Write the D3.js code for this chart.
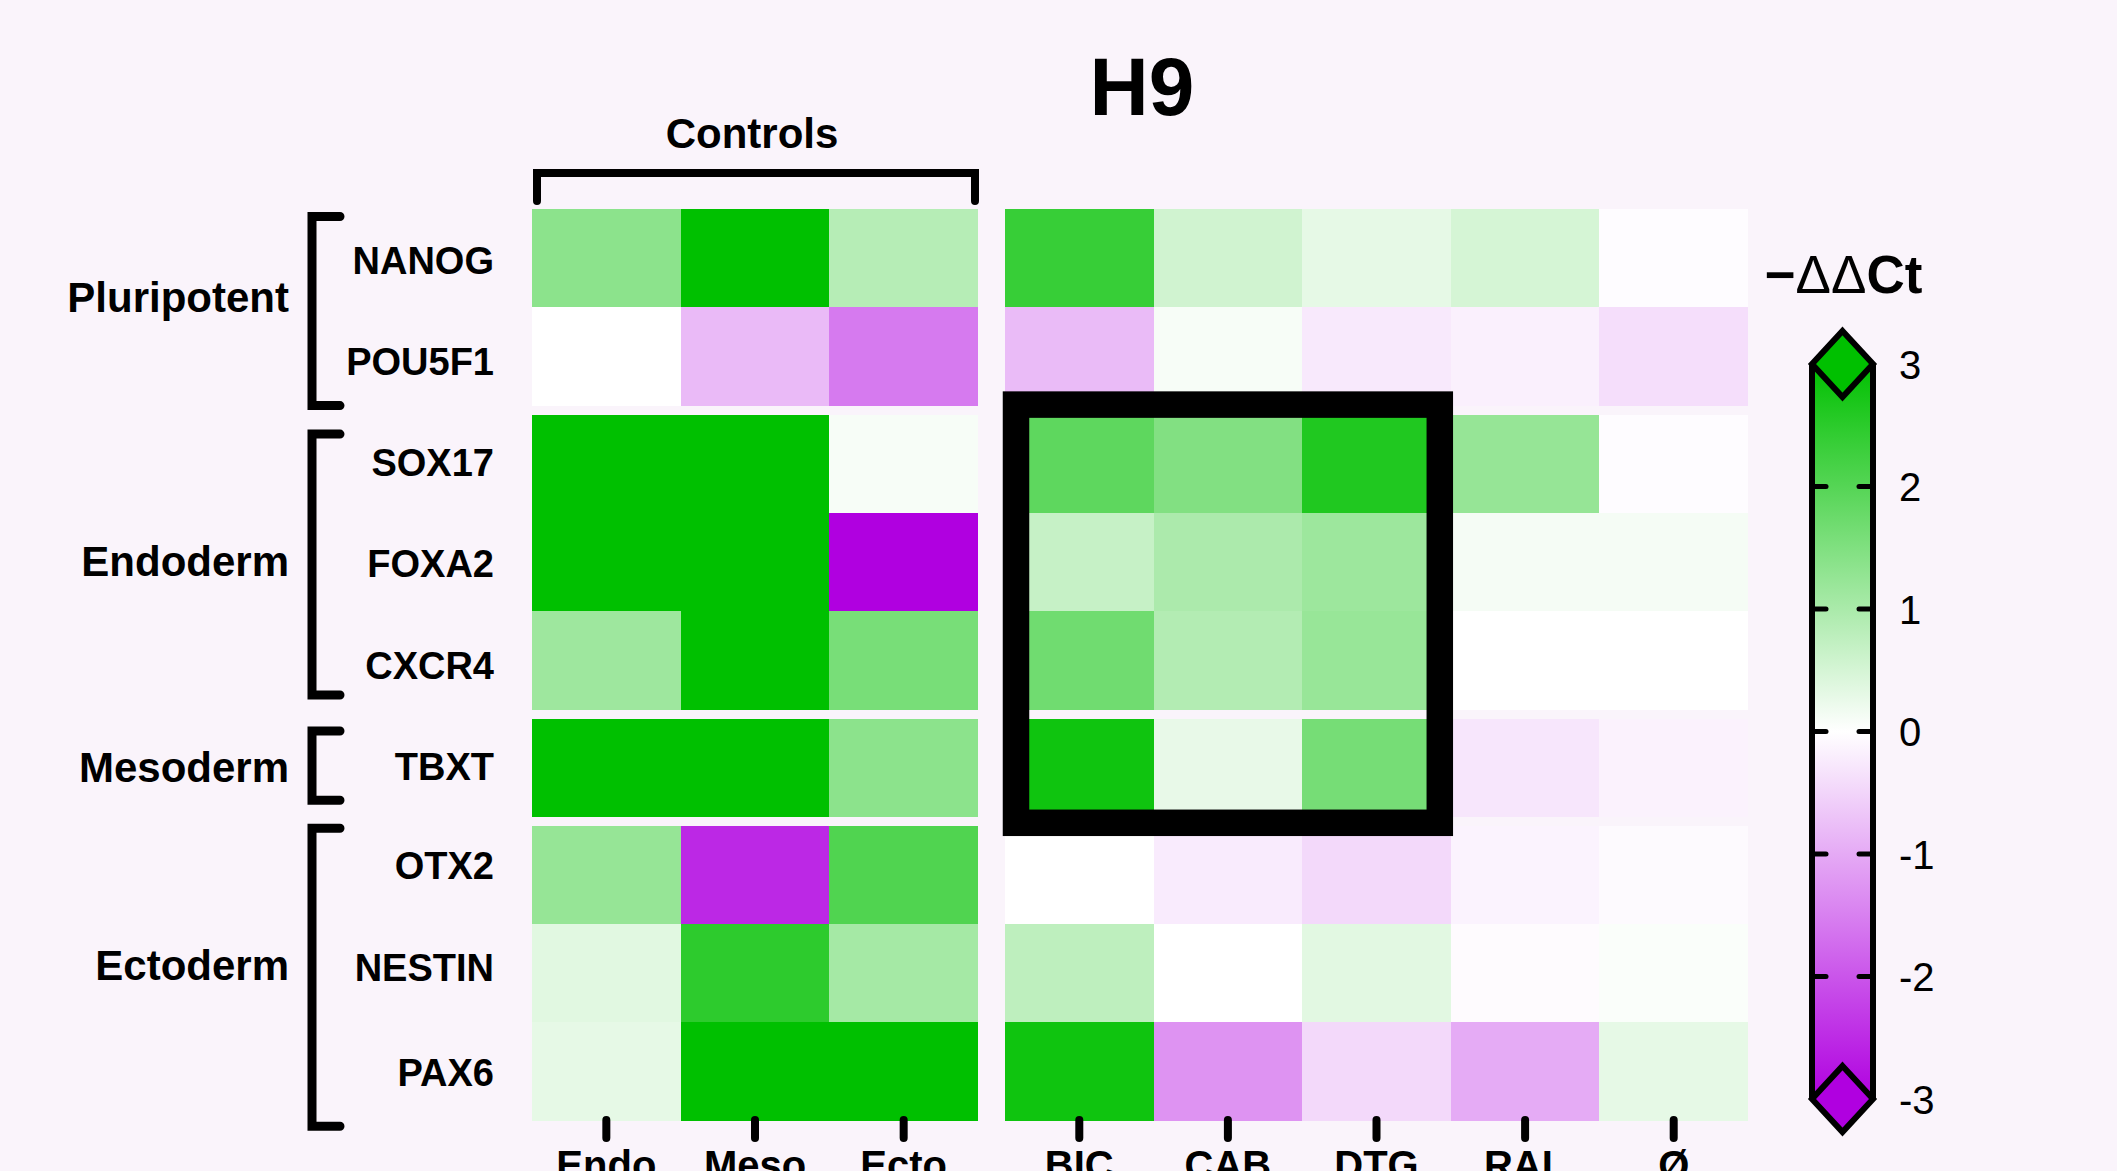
<!DOCTYPE html>
<html>
<head>
<meta charset="utf-8">
<script src="https://cdn.jsdelivr.net/npm/d3@7"></script>
<style>
  html, body { margin: 0; padding: 0; background: #faf4fb; }
  svg { display: block; }
  text { font-family: "Liberation Sans", Arial, Helvetica, sans-serif; fill: #000; }
</style>
</head>
<body>
<svg id="main-canvas" width="2117" height="1171"></svg>
<script>
// 数据
var genes = ["NANOG", "POU5F1", "SOX17", "FOXA2", "CXCR4", "TBXT", "OTX2", "NESTIN", "PAX6"]
var groupNames = ["Pluripotent", "Endoderm", "Mesoderm", "Ectoderm"]
var groupSizes = [2, 3, 1, 3]
var controls = ["Endo", "Meso", "Ecto"]
var drugs = ["BIC", "CAB", "DTG", "RAL", "Ø"]

// -ΔΔCt, 每行一个基因
var controlValues = [
  [1.35, 3.6, 0.86],
  [0.0, -0.81, -1.56],
  [3.8, 3.5, 0.1],
  [3.7, 3.9, -3.3],
  [1.14, 3.4, 1.59],
  [3.6, 3.7, 1.35],
  [1.24, -2.53, 2.06],
  [0.35, 2.47, 1.06],
  [0.29, 3.5, 3.3]
]
var drugValues = [
  [2.35, 0.55, 0.29, 0.49, -0.04],
  [-0.8, 0.1, -0.26, -0.18, -0.39],
  [1.9, 1.47, 2.62, 1.24, -0.04],
  [0.67, 0.98, 1.15, 0.12, 0.12],
  [1.68, 0.9, 1.21, 0.0, 0.0],
  [2.82, 0.27, 1.61, -0.29, -0.15],
  [0.0, -0.24, -0.45, -0.14, -0.06],
  [0.76, 0.0, 0.34, -0.05, 0.06],
  [2.82, -1.27, -0.45, -0.99, 0.29]
]
var legendTicks = [3, 2, 1, 0, -1, -2, -3]
var boxGenes = ["SOX17", "TBXT"]
var boxDrugs = ["BIC", "DTG"]

// 版面微调（手工排版的偏移）
var geneLabelNudge = [2, 5, -1, 1, 5, -1, -9, -6, 1]
var groupLabelNudge = [-10, -1.5, -1, -8]
var bracketInsetTop = [7.5, 19.5, 12.5, 2.5]
var bracketInsetBottom = [0, 14.5, 16.5, -5.5]

var svg = d3.select("#main-canvas")

svg.append("rect")
   .attr("width", 2117)
   .attr("height", 1171)
   .attr("fill", "#faf4fb")

var color = d3.scaleLinear()
              .domain([-3, 0, 3])
              .range(["#b000e0", "#ffffff", "#00c000"])
              .clamp(true)

// 行位置：组之间有空隙
var rowH = 98.3, gap = 9
var groupOf = []
groupSizes.forEach(function (n, g) { for (var k = 0; k < n; k++) groupOf.push(g) })
var yRow = d3.scaleLinear().domain([0, genes.length]).range([209, 209 + genes.length * rowH])
function rowTop (i) { return yRow(i) + gap * groupOf[i] }

var xCtrl = d3.scaleBand().domain(controls).range([532, 978])
var xDrug = d3.scaleBand().domain(drugs).range([1005, 1748])

// 热图格子
function drawBlock (cols, x, values) {
  var cells = []
  genes.forEach(function (gname, i) {
    cols.forEach(function (c, j) { cells.push({ i: i, c: c, v: values[i][j] }) })
  })
  svg.append("g")
     .selectAll("rect")
     .data(cells)
     .join("rect")
     .attr("x", function (d) { return x(d.c) })
     .attr("y", function (d) { return rowTop(d.i) })
     .attr("width", x.bandwidth())
     .attr("height", rowH)
     .attr("shape-rendering", "crispEdges")
     .attr("fill", function (d) { return color(d.v) })

  // 下方刻度与标签
  var ax = svg.append("g")
  ax.selectAll("line")
    .data(cols)
    .join("line")
    .attr("x1", function (d) { return x(d) + x.bandwidth() / 2 })
    .attr("x2", function (d) { return x(d) + x.bandwidth() / 2 })
    .attr("y1", 1120)
    .attr("y2", 1138)
    .attr("stroke", "#000")
    .attr("stroke-width", 8)
    .attr("stroke-linecap", "round")
  ax.selectAll("text")
    .data(cols)
    .join("text")
    .attr("x", function (d) { return x(d) + x.bandwidth() / 2 })
    .attr("y", 1179)
    .attr("text-anchor", "middle")
    .attr("font-size", 40)
    .attr("font-weight", "bold")
    .text(function (d) { return d })
}
drawBlock(controls, xCtrl, controlValues)
drawBlock(drugs, xDrug, drugValues)

// 基因名
svg.append("g")
   .selectAll("text")
   .data(genes)
   .join("text")
   .attr("x", 494)
   .attr("y", function (d, i) { return rowTop(i) + rowH / 2 + 13.5 + geneLabelNudge[i] })
   .attr("text-anchor", "end")
   .attr("font-size", 38)
   .attr("font-weight", "bold")
   .text(function (d) { return d })

// 分组括号和名称
var start = 0
groupNames.forEach(function (name, g) {
  var i0 = start, i1 = start + groupSizes[g] - 1
  start += groupSizes[g]
  var y0 = rowTop(i0), y1 = rowTop(i1) + rowH
  svg.append("path")
     .attr("d", "M340," + (y0 + bracketInsetTop[g]) + "H312V" + (y1 - bracketInsetBottom[g]) + "H340")
     .attr("fill", "none")
     .attr("stroke", "#000")
     .attr("stroke-width", 9)
     .attr("stroke-linecap", "round")
  svg.append("text")
     .attr("x", 289)
     .attr("y", (y0 + y1) / 2 + 15 + groupLabelNudge[g])
     .attr("text-anchor", "end")
     .attr("font-size", 42)
     .attr("font-weight", "bold")
     .text(name)
})

// Controls 括号
var cx0 = xCtrl.range()[0] + 5, cx1 = xCtrl.range()[1] - 3
svg.append("path")
   .attr("d", "M" + cx0 + ",201V173H" + cx1 + "V201")
   .attr("fill", "none")
   .attr("stroke", "#000")
   .attr("stroke-width", 8)
   .attr("stroke-linecap", "round")
svg.append("text")
   .attr("x", (xCtrl.range()[0] + xCtrl.range()[1]) / 2 - 3)
   .attr("y", 148)
   .attr("text-anchor", "middle")
   .attr("font-size", 42)
   .attr("font-weight", "bold")
   .text("Controls")

// 标题
svg.append("text")
   .attr("x", (xCtrl.range()[0] + xDrug.range()[1]) / 2 + 2)
   .attr("y", 115)
   .attr("text-anchor", "middle")
   .attr("font-size", 82)
   .attr("font-weight", "bold")
   .text("H9")

// 黑框
var gi0 = genes.indexOf(boxGenes[0]), gi1 = genes.indexOf(boxGenes[1])
var bx0 = xDrug(boxDrugs[0]) + 11
var bx1 = xDrug(boxDrugs[1]) + xDrug.bandwidth() - 11
var by0 = rowTop(gi0) - 10
var by1 = rowTop(gi1) + rowH + 6
svg.append("rect")
   .attr("x", bx0)
   .attr("y", by0)
   .attr("width", bx1 - bx0)
   .attr("height", by1 - by0)
   .attr("fill", "none")
   .attr("stroke", "#000")
   .attr("stroke-width", 26.5)

// 色条
var lcx = 1842.5, lhw = 30.5
var yLeg = d3.scaleLinear().domain([-3, 3]).range([1099, 364])
var defs = svg.append("defs")
var grad = defs.append("linearGradient")
               .attr("id", "leg-grad")
               .attr("x1", 0).attr("y1", 0).attr("x2", 0).attr("y2", 1)
grad.selectAll("stop")
    .data(d3.range(0, 13))
    .join("stop")
    .attr("offset", function (k) { return k / 12 })
    .attr("stop-color", function (k) { return color(3 - k / 2) })

var leg = svg.append("g")
leg.append("rect")
   .attr("x", lcx - lhw)
   .attr("y", yLeg(3))
   .attr("width", lhw * 2)
   .attr("height", yLeg(-3) - yLeg(3))
   .attr("fill", "url(#leg-grad)")
;[lcx - lhw, lcx + lhw].forEach(function (x) {
  leg.append("line")
     .attr("x1", x).attr("x2", x)
     .attr("y1", yLeg(3)).attr("y2", yLeg(-3))
     .attr("stroke", "#000")
     .attr("stroke-width", 6)
})
;[3, -3].forEach(function (v) {
  var yc = yLeg(v)
  leg.append("path")
     .attr("d", "M" + lcx + "," + (yc - 33) + "L" + (lcx + lhw) + "," + yc + "L" + lcx + "," + (yc + 33) + "L" + (lcx - lhw) + "," + yc + "Z")
     .attr("fill", color(v))
     .attr("stroke", "#000")
     .attr("stroke-width", 6)
     .attr("stroke-linejoin", "miter")
})
// 内侧短刻度
var inner = legendTicks.filter(function (v) { return Math.abs(v) < 3 })
inner.forEach(function (v) {
  [[lcx - lhw + 2, lcx - lhw + 14], [lcx + lhw - 14, lcx + lhw - 2]].forEach(function (p) {
    leg.append("line")
       .attr("x1", p[0]).attr("x2", p[1])
       .attr("y1", yLeg(v)).attr("y2", yLeg(v))
       .attr("stroke", "#000")
       .attr("stroke-width", 5)
       .attr("stroke-linecap", "round")
  })
})
leg.selectAll("text.tick")
   .data(legendTicks)
   .join("text")
   .attr("class", "tick")
   .attr("x", 1899)
   .attr("y", function (d) { return yLeg(d) + 14.5 })
   .attr("font-size", 40)
   .text(function (d) { return String(d) })

var lt = leg.append("text")
            .attr("x", lcx + 1)
            .attr("y", 293)
            .attr("text-anchor", "middle")
            .attr("font-size", 53)
            .attr("font-weight", "bold")
lt.append("tspan").text("−")
lt.append("tspan").attr("font-weight", "normal").text("ΔΔ")
lt.append("tspan").text("Ct")
</script>
</body>
</html>
